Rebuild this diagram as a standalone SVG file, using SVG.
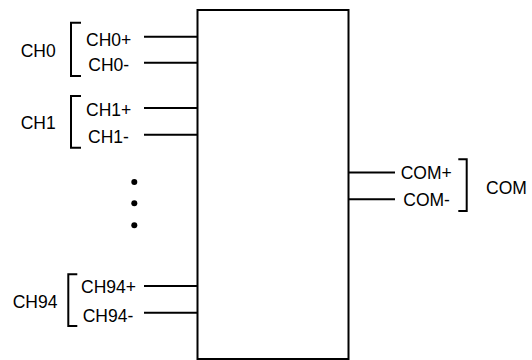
<svg xmlns="http://www.w3.org/2000/svg" width="532" height="360" viewBox="0 0 532 360">
<style>
.t{font-family:"Liberation Sans",Arial,sans-serif;font-size:17.5px;fill:#000}
.w{stroke:#000;stroke-width:2;fill:none}
</style>
<rect width="532" height="360" fill="#fff"/>
<g id="block"><rect class="w" x="197.5" y="10" width="151" height="349"/></g>
<g id="connectors">
<path class="w" d="M144,36.7H197.5M144,62.7H197.5M144,108H197.5M144,134.7H197.5M144,286H197.5M144,312.7H197.5M348.5,172.5H395M348.5,199.3H395"/>
</g>
<g id="ch0">
<path class="w" d="M81,22.7H71V76H81"/>
<text class="t" x="20.7" y="56.5">CH0</text>
<text class="t" x="86" y="46">CH0+</text>
<text class="t" x="88.3" y="70.7">CH0-</text>
</g>
<g id="ch1">
<path class="w" d="M81,96H71V147.7H81"/>
<text class="t" x="20.7" y="129.3">CH1</text>
<text class="t" x="86" y="116">CH1+</text>
<text class="t" x="88" y="142.7">CH1-</text>
</g>
<g id="dots">
<circle cx="134.3" cy="182" r="3"/>
<circle cx="134.3" cy="203.3" r="3"/>
<circle cx="134.3" cy="225.3" r="3"/>
</g>
<g id="ch94">
<path class="w" d="M77.3,274.3H68.3V326H77.3"/>
<text class="t" x="12.7" y="308.3">CH94</text>
<text class="t" x="81" y="293.3">CH94+</text>
<text class="t" x="82.7" y="321.5">CH94-</text>
</g>
<g id="com">
<path class="w" d="M458.3,159.3H466.7V211H458.3"/>
<text class="t" x="400.7" y="179">COM+</text>
<text class="t" x="403.3" y="206">COM-</text>
<text class="t" x="486" y="194">COM</text>
</g>
</svg>
